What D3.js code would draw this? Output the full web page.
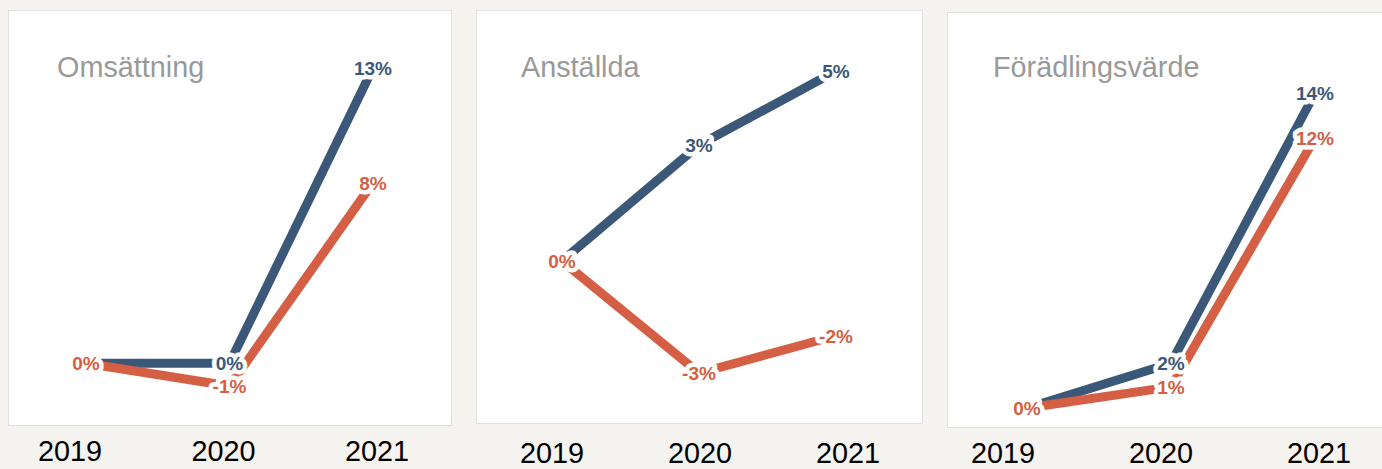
<!DOCTYPE html>
<html>
<head>
<meta charset="utf-8">
<script src="https://cdn.jsdelivr.net/npm/d3@7"></script>
<style>
  body { margin: 0; background: #f4f3f0; }
  svg { display: block; }
  text { font-family: Arial, "Liberation Sans", sans-serif; }
</style>
</head>
<body>
<script>
// Data
var ar = ["2019", "2020", "2021"]
var rubriker = ["Omsättning", "Anställda", "Förädlingsvärde"]

var omsattningBla = [0, 0, 13]
var omsattningOrange = [0, -1, 7.95]
var anstalldaBla = [0, 3.05, 5]
var anstalldaOrange = [0, -2.95, -1.97]
var foradlingBla = [0, 1.99, 14]
var foradlingOrange = [0, 0.94, 12]

var serier = [
    [omsattningBla, omsattningOrange],
    [anstalldaBla, anstalldaOrange],
    [foradlingBla, foradlingOrange]
]

var farger = ["#3b5878", "#d45f44"]

// Layout för varje panel
var paneler = [
    {box: [8, 10, 443, 415],  titel: [57, 77],  x: [86, 373],   y: [386, 68], rubrik: [70, 377],   rubrikY: 461},
    {box: [476, 10, 446, 413], titel: [521, 77], x: [562, 836],  y: [373, 71], rubrik: [552, 848],  rubrikY: 463},
    {box: [947, 12, 440, 415], titel: [993, 77], x: [1027, 1315], y: [408, 93], rubrik: [1003, 1319], rubrikY: 463}
]

var svg = d3.select("body")
            .append("svg")
            .attr("width", 1382)
            .attr("height", 469)

paneler.forEach(function(p, i) {
    var g = svg.append("g")

    // vit ruta
    g.append("rect")
     .attr("x", p.box[0] + 0.5)
     .attr("y", p.box[1] + 0.5)
     .attr("width", p.box[2])
     .attr("height", p.box[3])
     .attr("fill", "#fff")
     .attr("stroke", "#e1e1e1")
     .attr("stroke-width", 1)

    g.append("text")
     .attr("x", p.titel[0])
     .attr("y", p.titel[1])
     .attr("fill", "#999")
     .style("font-size", "28.8px")
     .text(rubriker[i])

    var x = d3.scalePoint()
              .domain(ar)
              .range(p.x)

    var alla = serier[i][0].concat(serier[i][1])
    var y = d3.scaleLinear()
              .domain(d3.extent(alla))
              .range(p.y)

    // årsrubriker under panelen
    var xr = d3.scalePoint().domain(ar).range(p.rubrik)
    g.append("g")
     .selectAll("text")
     .data(ar)
     .enter()
     .append("text")
     .attr("x", function(d) { return xr(d) })
     .attr("y", p.rubrikY)
     .attr("text-anchor", "middle")
     .attr("fill", "#000")
     .style("font-size", "28.8px")
     .text(function(d) { return d })

    var linje = d3.line()
                  .x(function(d, j) { return x(ar[j]) })
                  .y(function(d) { return y(d) })

    serier[i].forEach(function(s, k) {
        g.append("path")
         .datum(s)
         .attr("fill", "none")
         .attr("stroke", farger[k])
         .attr("stroke-width", 9)
         .attr("stroke-linejoin", "miter")
         .attr("d", linje)
    })

    // etiketter med vit kant, blå etikett 2019 döljs (överlapp)
    serier[i].forEach(function(s, k) {
        g.append("g")
         .selectAll("text")
         .data(s.map(function(v, j) { return {v: v, j: j} })
                .filter(function(d) { return !(k == 0 && d.j == 0) }))
         .enter()
         .append("text")
         .attr("x", function(d) { return x(ar[d.j]) })
         .attr("y", function(d) { return y(d.v) })
         .attr("dy", "0.36em")
         .attr("text-anchor", "middle")
         .attr("fill", farger[k])
         .attr("stroke", "#fff")
         .attr("stroke-width", 9)
         .attr("stroke-linejoin", "round")
         .attr("paint-order", "stroke")
         .style("font-size", "19px")
         .style("font-weight", "bold")
         .text(function(d) { return Math.round(d.v) + "%" })
    })
})
</script>
</body>
</html>
